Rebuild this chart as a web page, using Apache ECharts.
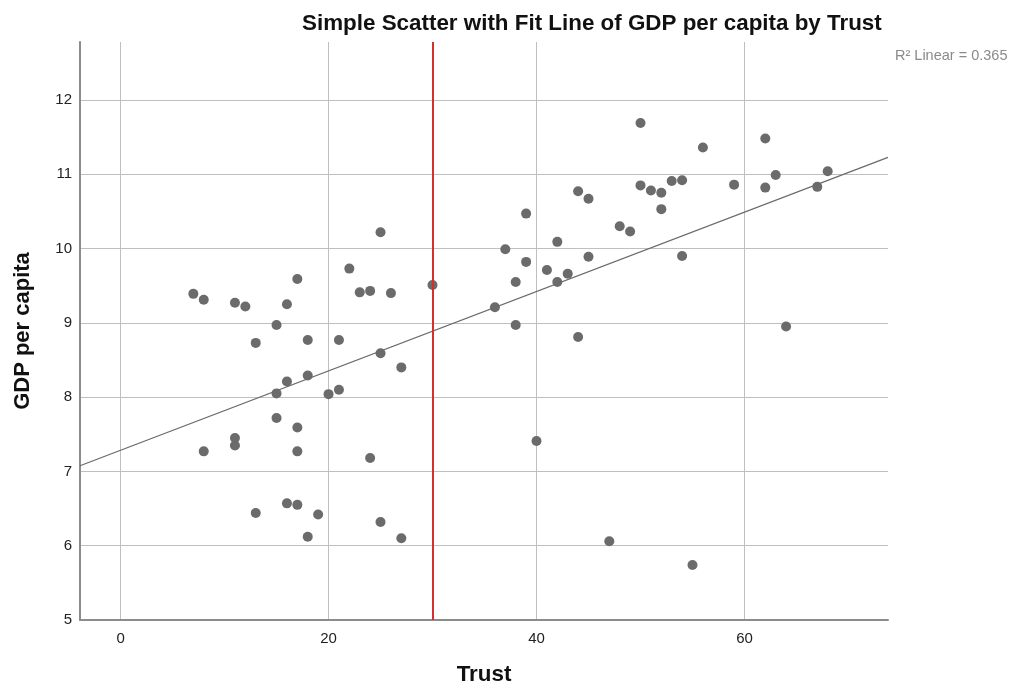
<!DOCTYPE html>
<html>
<head>
<meta charset="utf-8">
<script src="https://cdn.jsdelivr.net/npm/echarts@6/dist/echarts.min.js"></script>
<style>
  html, body { margin: 0; padding: 0; background: #fff; }
  #chart { width: 1021px; height: 692px; }
</style>
</head>
<body>
<div id="chart"></div>
<script>
// Country-level observations: interpersonal trust (%) vs. log GDP per capita
const trust = [7, 8, 8, 11, 11, 11, 12, 13, 13, 15, 15, 15, 16, 16, 16, 17, 17, 17, 17, 18, 18, 18, 19, 20, 21, 21,
  22, 23, 24, 24, 25, 25, 25, 26, 27, 27, 30, 36, 37, 38, 38, 39, 39, 40, 41, 42, 42, 43, 44, 44, 45, 45, 47, 48,
  49, 50, 50, 51, 52, 52, 53, 54, 54, 55, 56, 59, 62, 62, 63, 64, 67, 68];
const gdp = [9.39, 9.31, 7.27, 9.27, 7.45, 7.35, 9.22, 8.73, 6.44, 8.97, 8.05, 7.72, 9.25, 8.21, 6.57, 9.59, 7.59,
  7.27, 6.55, 8.77, 8.29, 6.12, 6.42, 8.04, 8.77, 8.10, 9.73, 9.41, 9.43, 7.18, 10.22, 8.59, 6.32, 9.40, 8.40, 6.10,
  9.51, 9.21, 9.99, 9.55, 8.97, 10.47, 9.82, 7.41, 9.71, 10.09, 9.55, 9.66, 10.77, 8.81, 10.67, 9.89, 6.06, 10.30,
  10.23, 11.69, 10.85, 10.78, 10.75, 10.53, 10.91, 10.92, 9.90, 5.74, 11.36, 10.86, 11.48, 10.82, 10.99, 8.95,
  10.83, 11.04];

const xTicks = [0, 20, 40, 60];
const yTicks = [5, 6, 7, 8, 9, 10, 11, 12];
const xRange = [-3.9, 73.8];
const yRange = [5, 12.78];
const referenceTrust = 30;
const rSquaredLabel = 'R\u00b2 Linear = 0.365';

// Ordinary least-squares fit of GDP on Trust
const n = trust.length;
const mx = trust.reduce((a, b) => a + b, 0) / n;
const my = gdp.reduce((a, b) => a + b, 0) / n;
let sxy = 0, sxx = 0;
for (let i = 0; i < n; i++) {
  sxy += (trust[i] - mx) * (gdp[i] - my);
  sxx += (trust[i] - mx) * (trust[i] - mx);
}
const slope = sxy / sxx;
const intercept = my - slope * mx;
const fitPoints = xRange.map(x => [x, intercept + slope * x]);

const points = trust.map((t, i) => [t, gdp[i]]);

const FONT = '"Liberation Sans", Arial, sans-serif';
const chart = echarts.init(document.getElementById('chart'));

chart.setOption({
  backgroundColor: '#ffffff',
  animation: false,
  title: {
    text: 'Simple Scatter with Fit Line of GDP per capita by Trust',
    left: 297,
    top: 8,
    textStyle: { fontFamily: FONT, fontSize: 22.4, fontWeight: 'bold', color: '#111' }
  },
  grid: { left: 80, right: 133, top: 42, bottom: 72, containLabel: false },
  xAxis: {
    type: 'value',
    min: xRange[0],
    max: xRange[1],
    name: 'Trust',
    nameLocation: 'middle',
    nameGap: 44,
    nameTextStyle: { fontFamily: FONT, fontSize: 22.4, fontWeight: 'bold', color: '#111' },
    axisLine: { show: true, onZero: false, lineStyle: { color: '#8c8c8c', width: 2 } },
    axisTick: { show: false, customValues: xTicks },
    axisLabel: { customValues: xTicks, margin: 11, fontFamily: FONT, fontSize: 15, color: '#222' },
    splitLine: { show: true, lineStyle: { color: '#bfbfbf', width: 1 } }
  },
  yAxis: {
    type: 'value',
    min: yRange[0],
    max: yRange[1],
    name: 'GDP per capita',
    nameLocation: 'middle',
    nameGap: 46,
    nameTextStyle: { fontFamily: FONT, fontSize: 22, fontWeight: 'bold', color: '#111' },
    axisLine: { show: true, onZero: false, lineStyle: { color: '#8c8c8c', width: 2 } },
    axisTick: { show: false, customValues: yTicks },
    axisLabel: { customValues: yTicks, margin: 8, fontFamily: FONT, fontSize: 15, color: '#222' },
    splitLine: { show: true, lineStyle: { color: '#bfbfbf', width: 1 } }
  },
  graphic: [{
    type: 'text',
    left: 895,
    top: 48,
    style: { text: rSquaredLabel, fontFamily: FONT, fontSize: 14.5, fill: '#8a8a8a' }
  }],
  series: [
    {
      type: 'scatter',
      data: points,
      symbol: 'circle',
      symbolSize: 10,
      itemStyle: { color: '#6b6b6b', opacity: 1 },
      z: 2
    },
    {
      type: 'line',
      data: fitPoints,
      showSymbol: false,
      symbol: 'none',
      lineStyle: { color: '#6a6a6a', width: 1.2 },
      z: 3
    },
    {
      type: 'line',
      data: [],
      z: 4,
      markLine: {
        silent: true,
        symbol: ['none', 'none'],
        label: { show: false },
        lineStyle: { color: '#d2322d', width: 2, type: 'solid' },
        data: [{ xAxis: referenceTrust }]
      }
    }
  ]
});
</script>
</body>
</html>
